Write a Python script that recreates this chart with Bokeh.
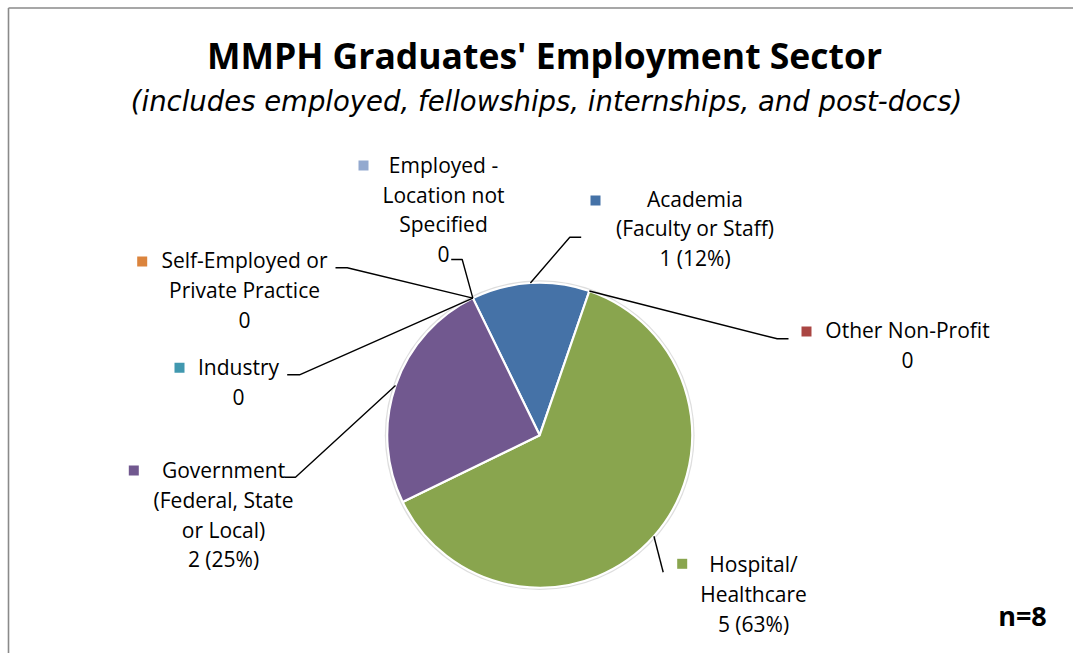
import math
import numpy as np
from bokeh.plotting import figure
from bokeh.models import Range1d, ColumnDataSource
from bokeh.core.properties import value
from bokeh.embed import file_html
from bokeh.resources import INLINE

# ---------------- data ----------------
categories = [
    "Academia (Faculty or Staff)",
    "Other Non-Profit",
    "Hospital/ Healthcare",
    "Government (Federal, State or Local)",
    "Industry",
    "Self-Employed or Private Practice",
    "Employed - Location not Specified",
]
label_lines = [
    ["Academia", "(Faculty or Staff)"],
    ["Other Non-Profit"],
    ["Hospital/", "Healthcare"],
    ["Government", "(Federal, State", "or Local)"],
    ["Industry"],
    ["Self-Employed or", "Private Practice"],
    ["Employed -", "Location not", "Specified"],
]
counts = [1, 0, 5, 2, 0, 0, 0]
percent_labels = ["12%", "", "63%", "25%", "", "", ""]
colors = ["#4572A7", "#AA4643", "#89A54E", "#71588F", "#4198AF", "#DB843D", "#93A9CF"]
title_text = "MMPH Graduates' Employment Sector"
subtitle_text = "(includes employed, fellowships, internships, and post-docs)"
note_text = "n=8"

# ---------------- layout (pixel positions) ----------------
FONT = "Open Sans"
CX, CY, R = 539.2, 434.7, 152.5
FIRST_ANGLE = 116.0
LINE_H = 29.6
TXT_SHIFT = 8.5
label_x = [694.5, 907, 753, 223, 238, 244, 443]
label_y0 = [206.7, 338, 572.3, 478.3, 375, 268.3, 173]
square_xy = [(595, 200), (806, 331), (681.7, 563.3), (133.3, 470), (179, 367.3), (141.7, 261), (363, 165)]
elbow = [(569.3, 236.7), (776.7, 338.3), (662.7, 571.7), (295, 476.7), (299, 374.3), (346.7, 267.3), (461.7, 259)]
tail = [(580.7, 236.7), (788, 338.3), None, (284, 476.7), (286.7, 374.3), (335, 267.3), (450.7, 259)]

W, H = 1073, 653
p = figure(width=W, height=H, output_backend="svg", toolbar_location=None,
           x_range=Range1d(0, W), y_range=Range1d(-H, 0),
           min_border=0, background_fill_color="white", border_fill_color="white")
p.axis.visible = False
p.grid.visible = False
p.outline_line_color = None

# frame border (top and left)
p.segment(x0=[8, 8], y0=[-7.5, -7.5], x1=[W, 8], y1=[-7.5, -H],
          line_color="#8a8a8a", line_width=1.6)

# ---------------- pie ----------------
total = float(sum(counts))
cum = np.concatenate([[0], np.cumsum(counts)])
start_deg = FIRST_ANGLE - cum[:-1] / total * 360.0
end_deg = FIRST_ANGLE - cum[1:] / total * 360.0
mid_deg = (start_deg + end_deg) / 2.0

nz = [i for i, c in enumerate(counts) if c > 0]
pie_src = ColumnDataSource(dict(
    x=[CX] * len(nz), y=[-CY] * len(nz),
    start=[math.radians(start_deg[i]) for i in nz],
    end=[math.radians(end_deg[i]) for i in nz],
    color=[colors[i] for i in nz],
    cat=[categories[i] for i in nz],
))
# soft edge
p.circle(x=[CX], y=[-CY], radius=R + 2.4, fill_color="#c8c8c8", fill_alpha=0.6, line_color=None)
p.wedge(x="x", y="y", radius=R, start_angle="start", end_angle="end", direction="clock",
        fill_color="color", line_color="white", line_width=2.2, source=pie_src)

# ---------------- leader lines ----------------
xs, ys = [], []
for i in range(len(categories)):
    a = math.radians(mid_deg[i])
    ax, ay = CX + R * math.cos(a), CY - R * math.sin(a)
    px = [ax, elbow[i][0]]
    py = [ay, elbow[i][1]]
    if tail[i] is not None:
        px.append(tail[i][0])
        py.append(tail[i][1])
    xs.append(px)
    ys.append([-v for v in py])
p.multi_line(xs=xs, ys=ys, line_color="black", line_width=1.4)

# ---------------- labels ----------------
tx, ty, tt = [], [], []
for i in range(len(categories)):
    lines = list(label_lines[i])
    lines.append(f"{counts[i]} ({percent_labels[i]})" if counts[i] > 0 else f"{counts[i]}")
    for k, s in enumerate(lines):
        tx.append(label_x[i])
        ty.append(-(label_y0[i] + k * LINE_H - TXT_SHIFT))
        tt.append(s)
p.text(x=tx, y=ty, text=tt, text_font=value(FONT), text_font_size="21px",
       text_align="center", text_baseline="alphabetic", text_color="black")

p.scatter(x=[s[0] for s in square_xy], y=[-s[1] for s in square_xy], marker="square",
          size=10, fill_color=colors, line_color=None)

# ---------------- titles ----------------
p.text(x=[544], y=[-(66.7 - 12)], text=[title_text], text_font=value(FONT), text_font_size="35.5px",
       text_font_style="bold", text_align="center", text_baseline="alphabetic", text_color="black")
p.text(x=[546], y=[-(108.3 - 7.5)], text=[subtitle_text], text_font=value("DejaVu Sans"),
       text_font_size="27.5px", text_font_style="italic", text_align="center",
       text_baseline="alphabetic", text_color="black")
p.text(x=[1022], y=[-(625 - 10)], text=[note_text], text_font=value(FONT), text_font_size="27px",
       text_font_style="bold", text_align="center", text_baseline="alphabetic", text_color="black")

open("out.html", "w").write(file_html(p, INLINE))
